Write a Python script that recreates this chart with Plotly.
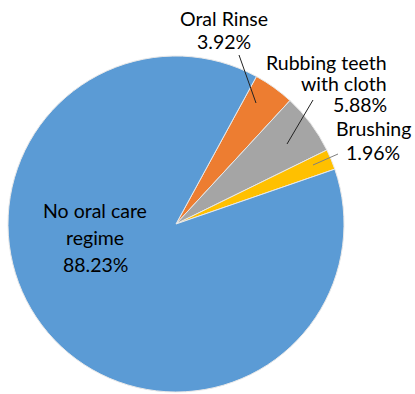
import plotly.graph_objects as go

categories = ["Oral Rinse", "Rubbing teeth with cloth", "Brushing", "No oral care regime"]
values = [3.92, 5.88, 1.96, 88.23]
colors = ["#ED7D31", "#A5A5A5", "#FFC000", "#5B9BD5"]

W, H = 415, 394
cx, cy, r = 176, 224, 168

def px(x):
    return x / W

def py(y):
    return 1 - y / H

fig = go.Figure(go.Pie(
    labels=categories,
    values=values,
    sort=False,
    direction="clockwise",
    rotation=28.6,
    marker=dict(colors=colors, line=dict(color="#E8E8E8", width=1)),
    textinfo="none",
    hoverinfo="label+value",
    showlegend=False,
    domain=dict(x=[px(cx - r), px(cx + r)], y=[py(cy + r), py(cy - r)]),
))

font = dict(family="Lato, Open Sans, sans-serif", size=19.5, color="#000000")
# (text, x, y, xanchor)
label_lines = [
    ("Oral Rinse", 224, 19, "center"),
    ("3.92%", 224, 41, "center"),
    ("Rubbing teeth", 389, 62, "right"),
    ("with cloth", 389, 83, "right"),
    ("5.88%", 389, 104, "right"),
    ("Brushing", 373, 129, "center"),
    ("1.96%", 373, 152, "center"),
    ("No oral care", 95, 210, "center"),
    ("regime", 95, 237, "center"),
    ("88.23%", 95, 264, "center"),
]
for t, x, y, xa in label_lines:
    fig.add_annotation(xref="paper", yref="paper", showarrow=False, font=font, text=t,
                       x=px(x), y=py(y), xanchor=xa, yanchor="middle")

lines = [((239, 55), (256, 103), "#222222"), ((313, 100), (287, 144), "#222222"), ((338, 154), (313, 165), "#7f7f7f")]
for (x0, y0), (x1, y1), c in lines:
    fig.add_shape(type="line", xref="paper", yref="paper", x0=px(x0), y0=py(y0), x1=px(x1), y1=py(y1),
                  line=dict(color=c, width=1))

fig.update_layout(width=W, height=H, margin=dict(l=0, r=0, t=0, b=0),
                  paper_bgcolor="white", plot_bgcolor="white")
fig.write_html("out.html")
